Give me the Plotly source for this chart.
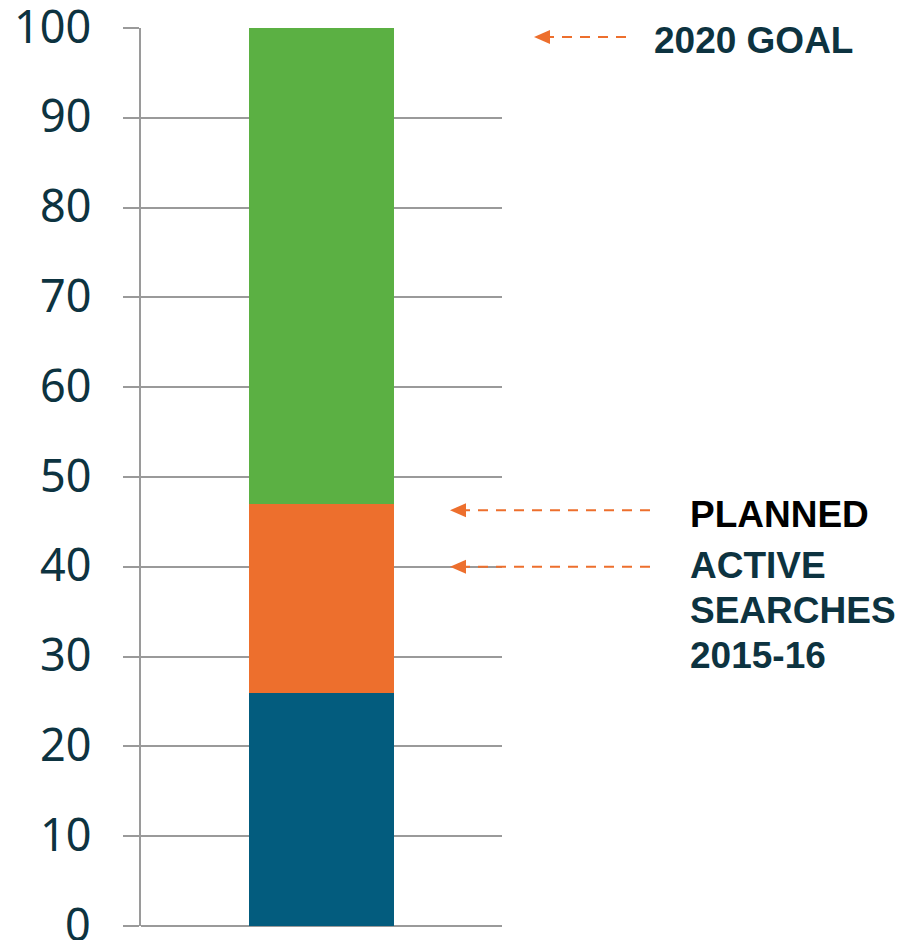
import plotly.graph_objects as go

# ---- data ----
category = ["Searches"]
active_searches = [26]
planned = [21]
to_goal = [53]
series_names = ["Active searches 2015-16", "Planned", "2020 goal"]
series_colors = ["#035c7e", "#ed6f2d", "#5bb043"]
tick_vals = [0, 10, 20, 30, 40, 50, 60, 70, 80, 90, 100]
tick_text = ["0", "10", "20", "30", "40", "50", "60", "70", "80", "90", "100"]

goal_level = 99
planned_level = 46.3
active_level = 40

fig = go.Figure()
for vals, name, col in zip([active_searches, planned, to_goal], series_names, series_colors):
    fig.add_trace(go.Bar(x=category, y=vals, name=name, marker=dict(color=col, line=dict(width=0)),
                         showlegend=False))

# page has an 8px body margin; size the figure to compensate
grid_col = "#9a9a9a"
fig.update_layout(
    barmode="stack",
    bargap=0.6,
    width=899, height=932,
    margin=dict(l=133, r=405, t=20, b=14, autoexpand=False),
    paper_bgcolor="white", plot_bgcolor="white",
    xaxis=dict(visible=False),
    yaxis=dict(range=[0, 100], tickvals=tick_vals, showgrid=True, gridcolor=grid_col, gridwidth=2,
               zeroline=True, zerolinecolor=grid_col, zerolinewidth=2,
               showline=True, linecolor=grid_col, linewidth=2,
               ticks="outside", ticklen=16, tickcolor=grid_col, tickwidth=2,
               showticklabels=False, automargin=False),
)

orange = "#ed6f2d"
plot_left = 141
plot_w = 361
def px(p):
    return (p - plot_left) / plot_w

# y tick labels (as text placed on the y scale, nudged up like the reference)
for v, t in zip(tick_vals, tick_text):
    fig.add_annotation(xref="paper", yref="y", x=px(93), y=v, text=t, showarrow=False,
                       xanchor="right", yanchor="middle", yshift=3,
                       font=dict(family="Noto Sans", size=45, color="#0d3340"))

arrows = [
    (goal_level, 534, 628),
    (planned_level, 450, 658),
    (active_level, 450, 658),
]
for lvl, x0, x1 in arrows:
    fig.add_shape(type="line", xref="paper", yref="y", x0=px(x0 + 10), x1=px(x1), y0=lvl, y1=lvl,
                  line=dict(color=orange, width=2, dash="10px,8px"))
    hx = px(x0); tx = px(x0 + 16); hh = 7 / 8.98
    fig.add_shape(type="path", xref="paper", yref="y",
                  path=f"M {hx},{lvl} L {tx},{lvl + hh} L {tx},{lvl - hh} Z",
                  fillcolor=orange, line=dict(width=0))

label_font = dict(family="Liberation Sans", size=37, color="#0d3340")
fig.add_annotation(xref="paper", yref="y", x=px(652), y=98.6, text="<b>2020 GOAL</b>",
                   showarrow=False, xanchor="left", yanchor="middle", font=label_font)
fig.add_annotation(xref="paper", yref="y", x=px(688), y=45.8, text="<b>PLANNED</b>",
                   showarrow=False, xanchor="left", yanchor="middle",
                   font=dict(family="Liberation Sans", size=37, color="#000000"))
active_lines = ["ACTIVE", "SEARCHES", "2015-16"]
active_line_y = [40.1, 35.1, 30.1]
for t, yv in zip(active_lines, active_line_y):
    fig.add_annotation(xref="paper", yref="y", x=px(688), y=yv, text=f"<b>{t}</b>",
                       showarrow=False, xanchor="left", yanchor="middle", font=label_font)

fig.write_html("out.html")
